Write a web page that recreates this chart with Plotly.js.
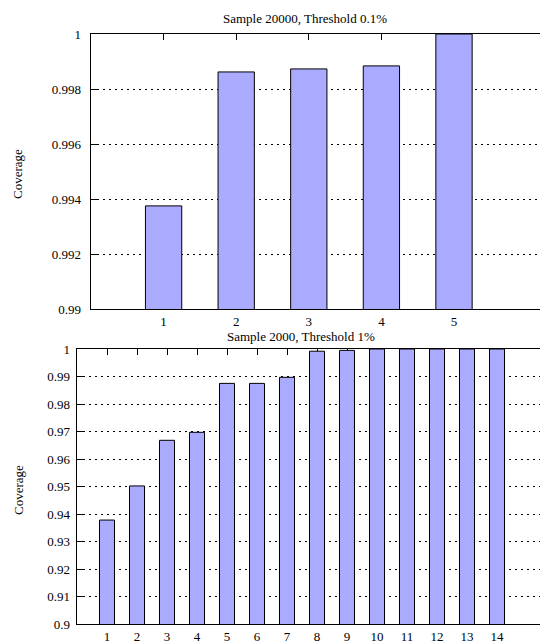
<!DOCTYPE html>
<html>
<head>
<meta charset="utf-8">
<script src="https://cdn.plot.ly/plotly-3.0.1.min.js"></script>
<style>html,body{margin:0;padding:0;background:#fff;overflow:hidden;}#chart{width:540px;height:641px;}</style>
</head>
<body>
<div id="chart"></div>
<script>
// Top panel: Sample 20000, Threshold 0.1%
const topCategories = [1, 2, 3, 4, 5];
const topCoverage = [0.99375, 0.99862, 0.99873, 0.99884, 1.0];
const topYTicks = [0.99, 0.992, 0.994, 0.996, 0.998, 1.0];
const topYLabels = ["0.99", "0.992", "0.994", "0.996", "0.998", "1"];

// Bottom panel: Sample 2000, Threshold 1%
const bottomCategories = [1, 2, 3, 4, 5, 6, 7, 8, 9, 10, 11, 12, 13, 14];
const bottomCoverage = [0.9378, 0.9502, 0.9668, 0.9697, 0.9875, 0.9875, 0.9897, 0.9992, 0.9995, 1.0, 1.0, 1.0, 1.0, 1.0];
const bottomYTicks = [0.9, 0.91, 0.92, 0.93, 0.94, 0.95, 0.96, 0.97, 0.98, 0.99, 1.0];
const bottomYLabels = ["0.9", "0.91", "0.92", "0.93", "0.94", "0.95", "0.96", "0.97", "0.98", "0.99", "1"];

const titles = ["Sample 20000, Threshold 0.1%", "Sample 2000, Threshold 1%"];
const yTitle = "Coverage";

const W = 540, H = 641;
const FONT = {family: "Liberation Serif, Times New Roman, serif", size: 13, color: "#000"};
const barStyle = {color: "#aaaaff", line: {color: "#000", width: 1}};

const traces = [
  {type: "bar", x: topCategories, y: topCoverage, width: 0.5, marker: barStyle, xaxis: "x", yaxis: "y", hoverinfo: "x+y"},
  {type: "bar", x: bottomCategories, y: bottomCoverage, width: 0.5, marker: barStyle, xaxis: "x2", yaxis: "y2", hoverinfo: "x+y"}
];

function xAxis(domain, range, ticks, anchor) {
  return {
    domain: domain, range: range, anchor: anchor,
    tickvals: ticks, ticktext: ticks.map(String),
    ticks: "inside", ticklen: 6, tickcolor: "#000",
    showline: true, linecolor: "#000", linewidth: 1, mirror: "ticks",
    showgrid: false, zeroline: false, layer: "below traces",
    tickfont: FONT, automargin: false, fixedrange: true
  };
}
function yAxis(domain, range, vals, labels, anchor, standoff) {
  return {
    domain: domain, range: range, anchor: anchor,
    tickvals: vals, ticktext: labels,
    ticks: "inside", ticklen: 6, tickcolor: "#000",
    showline: true, linecolor: "#000", linewidth: 1.5, mirror: false,
    showgrid: true, gridcolor: "#000", gridwidth: 1, griddash: "2px,4px",
    zeroline: false, layer: "below traces",
    tickfont: FONT, automargin: false, fixedrange: true, ticklabelstandoff: standoff
  };
}

const layout = {
  width: W, height: H,
  margin: {l: 0, r: 0, t: 0, b: 0},
  paper_bgcolor: "#fff", plot_bgcolor: "#fff",
  showlegend: false,
  font: FONT,
  xaxis: xAxis([91 / W, 1], [0, (540 - 91) / 72.6], topCategories, "y"),
  yaxis: yAxis([1 - 309 / H, 1 - 34 / H], [0.99, 1.0], topYTicks, topYLabels, "x", 6),
  xaxis2: xAxis([77 / W, 1], [0, (540 - 77) / 30], bottomCategories, "y2"),
  yaxis2: yAxis([1 - 624 / H, 1 - 349 / H], [0.9, 1.0], bottomYTicks, bottomYLabels, "x2", 3),
  annotations: [
    {text: titles[0], xref: "paper", yref: "paper", x: 305 / W, y: 1 - 18 / H, xanchor: "center", yanchor: "middle", showarrow: false, font: FONT},
    {text: titles[1], xref: "paper", yref: "paper", x: 301 / W, y: 1 - 336 / H, xanchor: "center", yanchor: "middle", showarrow: false, font: FONT},
    {text: yTitle, xref: "paper", yref: "paper", x: 18 / W, y: 1 - 174 / H, textangle: -90, xanchor: "center", yanchor: "middle", showarrow: false, font: FONT},
    {text: yTitle, xref: "paper", yref: "paper", x: 18 / W, y: 1 - 490 / H, textangle: -90, xanchor: "center", yanchor: "middle", showarrow: false, font: FONT}
  ]
};

Plotly.newPlot("chart", traces, layout, {displayModeBar: false, staticPlot: true});
</script>
</body>
</html>
